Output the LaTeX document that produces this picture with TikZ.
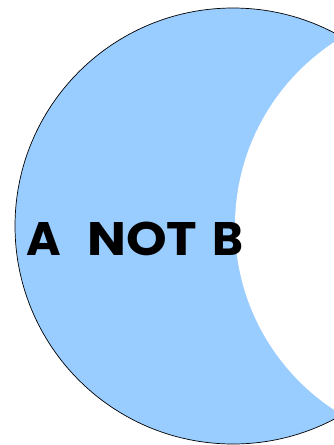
\documentclass[tikz,border=0pt]{standalone}
\usepackage{fontspec}
\newfontfamily\comicfont{Poppins}[UprightFont=* Bold]
\definecolor{setblue}{HTML}{99CCFF}
\tikzset{
  lbl/.style={inner sep=0pt, anchor=base west, font=\comicfont\fontsize{47}{47}\selectfont}
}
\begin{document}
\begin{tikzpicture}[x=1pt,y=-1pt]
\useasboundingbox (0,0) rectangle (334,445);
\coordinate (ca) at (233,226);
\coordinate (cb) at (455,226);
\fill[setblue] (ca) circle[radius=218];
\begin{scope}
  \clip (ca) circle[radius=218];
  \fill[white] (cb) circle[radius=220];
\end{scope}
\draw[black, line width=0.7pt] (ca) circle[radius=218];
\node[lbl] (la) at (26,255) {A};
\node[lbl, xscale=1.1] (lnot) at (87,255) {NOT};
\node[lbl] (lb) at (212,255) {B};
\end{tikzpicture}
\end{document}
